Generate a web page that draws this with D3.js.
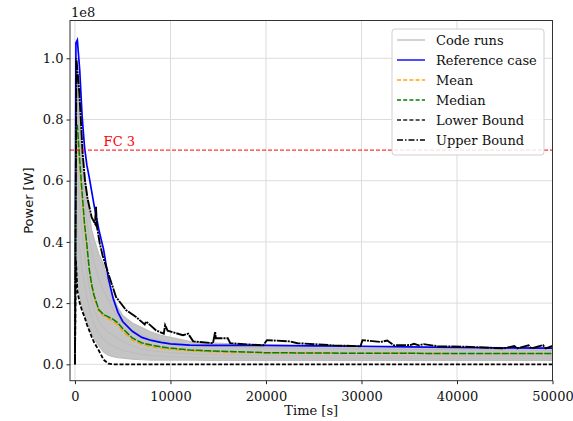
<!DOCTYPE html>
<html>
<head>
<meta charset="utf-8">
<script src="https://cdn.jsdelivr.net/npm/d3@7"></script>
<style>
  body { margin: 0; background: #fff; }
  text { font-family: "DejaVu Serif", serif; }
</style>
</head>
<body>
<svg id="chart" width="573" height="421"></svg>
<script>
"use strict";

// time grid [s] shared by the runs and statistics
var times = [0, 100, 250, 500, 750, 1000, 1250, 1500, 1750, 2000, 2500, 3000, 3500, 4000, 4500, 5000,
  6000, 7000, 8000, 9000, 10000, 12000, 14000, 16000, 18000, 20000, 25000, 30000, 35000, 40000, 45000, 50000];

// power in units of 1e8 W
var codeRuns = [
  [0, 0.98, 0.96, 0.85, 0.72, 0.62, 0.55, 0.49, 0.44, 0.41, 0.36, 0.325, 0.27, 0.22, 0.185, 0.16, 0.135, 0.12, 0.105, 0.095, 0.088, 0.075, 0.07, 0.068, 0.064, 0.062, 0.06, 0.058, 0.058, 0.055, 0.052, 0.052],
  [0, 0.90, 0.88, 0.76, 0.64, 0.54, 0.47, 0.41, 0.37, 0.33, 0.28, 0.24, 0.21, 0.18, 0.155, 0.135, 0.112, 0.095, 0.085, 0.078, 0.072, 0.064, 0.06, 0.057, 0.055, 0.054, 0.052, 0.05, 0.049, 0.048, 0.047, 0.046],
  [0, 0.80, 0.78, 0.66, 0.55, 0.46, 0.39, 0.32, 0.27, 0.23, 0.18, 0.165, 0.155, 0.145, 0.13, 0.11, 0.085, 0.07, 0.062, 0.057, 0.052, 0.047, 0.044, 0.042, 0.04, 0.038, 0.037, 0.036, 0.036, 0.035, 0.035, 0.035],
  [0, 0.66, 0.62, 0.52, 0.43, 0.36, 0.30, 0.25, 0.21, 0.18, 0.14, 0.12, 0.105, 0.095, 0.085, 0.075, 0.06, 0.05, 0.045, 0.041, 0.038, 0.034, 0.032, 0.031, 0.03, 0.029, 0.028, 0.028, 0.027, 0.027, 0.027, 0.026],
  [0, 0.50, 0.45, 0.38, 0.31, 0.26, 0.22, 0.18, 0.155, 0.13, 0.10, 0.08, 0.068, 0.06, 0.052, 0.046, 0.038, 0.032, 0.029, 0.027, 0.025, 0.023, 0.022, 0.021, 0.021, 0.02, 0.02, 0.02, 0.019, 0.019, 0.019, 0.019],
  [0, 0.36, 0.26, 0.22, 0.19, 0.165, 0.14, 0.12, 0.10, 0.085, 0.06, 0.04, 0.03, 0.025, 0.022, 0.02, 0.017, 0.015, 0.014, 0.014, 0.014, 0.014, 0.013, 0.013, 0.013, 0.013, 0.013, 0.013, 0.013, 0.013, 0.013, 0.013]
];
var referenceCase = [0, 1.05, 1.06, 0.96, 0.81, 0.71, 0.65, 0.61, 0.565, 0.52, 0.44, 0.375, 0.28, 0.215, 0.17, 0.14, 0.108, 0.088, 0.078, 0.072, 0.067, 0.063, 0.062, 0.062, 0.062, 0.062, 0.06, 0.059, 0.057, 0.055, 0.054, 0.053];
var meanCase = [0, 0.74, 0.75, 0.64, 0.545, 0.45, 0.38, 0.305, 0.255, 0.22, 0.172, 0.158, 0.149, 0.14, 0.128, 0.108, 0.079, 0.065, 0.057, 0.052, 0.049, 0.044, 0.041, 0.039, 0.038, 0.037, 0.036, 0.036, 0.036, 0.035, 0.035, 0.035];
var medianCase = [0, 0.78, 0.78, 0.667, 0.56, 0.46, 0.39, 0.31, 0.26, 0.225, 0.178, 0.163, 0.155, 0.147, 0.135, 0.117, 0.086, 0.07, 0.063, 0.057, 0.053, 0.047, 0.044, 0.042, 0.04, 0.038, 0.037, 0.036, 0.036, 0.035, 0.035, 0.035];
var lowerBound = [0, 0.34, 0.24, 0.20, 0.175, 0.155, 0.13, 0.11, 0.09, 0.072, 0.045, 0.015, 0.002, 0, 0, 0, 0, 0, 0, 0, 0, 0, 0, 0, 0, 0, 0, 0, 0, 0, 0, 0];

// upper bound is noisy, so it keeps its own time samples
var upperTimes = [0, 150, 450, 630, 800, 1050, 1330, 1750, 2100, 2200, 2300, 2600, 2900, 3600, 4300, 5350, 6400, 7300, 7450, 8500,
  9300, 9440, 9700, 11300, 11850, 12380, 14450, 14680, 14750, 16000, 16260, 19700, 20100, 22500, 23300, 27100, 29900, 30100,
  32000, 32700, 33400, 35100, 35500, 36000, 36500, 38000, 41400, 44900, 46000, 46300, 47500, 47800, 49000, 49300, 50000];
var upperBound = [0, 1.0, 0.89, 0.79, 0.69, 0.6, 0.54, 0.48, 0.46, 0.515, 0.45, 0.395, 0.355, 0.286, 0.22, 0.177, 0.155, 0.13, 0.14, 0.111,
  0.1, 0.128, 0.11, 0.095, 0.1, 0.075, 0.069, 0.106, 0.085, 0.085, 0.069, 0.062, 0.079, 0.075, 0.069, 0.062, 0.059, 0.079,
  0.073, 0.078, 0.062, 0.063, 0.067, 0.062, 0.066, 0.059, 0.057, 0.052, 0.06, 0.052, 0.062, 0.052, 0.063, 0.052, 0.06];

var fcLevel = 0.70;
var xTicks = [0, 10000, 20000, 30000, 40000, 50000];
var yTicks = [0, 0.2, 0.4, 0.6, 0.8, 1.0];
var legendItems = [
  { label: "Code runs", color: "#bfbfbf", dash: null },
  { label: "Reference case", color: "blue", dash: null },
  { label: "Mean", color: "orange", dash: "4,2.2" },
  { label: "Median", color: "green", dash: "4,2.2" },
  { label: "Lower Bound", color: "#222", dash: "4,2.2" },
  { label: "Upper Bound", color: "#000", dash: "6,2,1.5,2" }
];

var svg = d3.select("#chart");
var config = { margin: { l: 70, r: 20.5, t: 20.5, b: 40.3 } };
var width = 573, height = 421;

var x = d3.scaleLinear().domain([-520, 50000]).range([config.margin.l, width - config.margin.r]);
var y = d3.scaleLinear().domain([-0.0535, 1.1235]).range([height - config.margin.b, config.margin.t]);

// grid
var grid = svg.append("g").attr("class", "grid");
grid.selectAll("line.gx").data(xTicks).enter().append("line")
  .attr("x1", function(d) { return x(d); }).attr("x2", function(d) { return x(d); })
  .attr("y1", y.range()[0]).attr("y2", y.range()[1])
  .attr("stroke", "#dcdcdc").attr("stroke-width", 1);
grid.selectAll("line.gy").data(yTicks).enter().append("line")
  .attr("y1", function(d) { return y(d); }).attr("y2", function(d) { return y(d); })
  .attr("x1", x.range()[0]).attr("x2", x.range()[1])
  .attr("stroke", "#dcdcdc").attr("stroke-width", 1);

svg.append("clipPath").attr("id", "plotClip").append("rect")
  .attr("x", x.range()[0]).attr("y", y.range()[1])
  .attr("width", x.range()[1] - x.range()[0]).attr("height", y.range()[0] - y.range()[1]);
var plot = svg.append("g").attr("clip-path", "url(#plotClip)");

var line = d3.line()
  .x(function(d) { return x(d[0]); })
  .y(function(d) { return y(d[1]); });
function pairs(ts, vs) { return ts.map(function(t, i) { return [t, vs[i]]; }); }

// code runs: band between lowest and highest run, then every run on top
var band = d3.area()
  .x(function(d, i) { return x(times[i]); })
  .y0(function(d, i) { return y(d3.min(codeRuns, function(r) { return r[i]; })); })
  .y1(function(d, i) { return y(d3.max(codeRuns, function(r) { return r[i]; })); });
plot.append("path").datum(times).attr("d", band).attr("fill", "#c4c4c4");
plot.selectAll("path.run").data(codeRuns).enter().append("path")
  .attr("class", "run")
  .attr("d", function(r) { return line(pairs(times, r)); })
  .attr("fill", "none").attr("stroke", "#bdbdbd").attr("stroke-width", 1.2);

plot.append("path").attr("d", line(pairs(times, referenceCase)))
  .attr("fill", "none").attr("stroke", "blue").attr("stroke-width", 1.7);
plot.append("path").attr("d", line(pairs(times, meanCase)))
  .attr("fill", "none").attr("stroke", "orange").attr("stroke-width", 1.4).attr("stroke-dasharray", "5.5,2.4");
plot.append("path").attr("d", line(pairs(times, medianCase)))
  .attr("fill", "none").attr("stroke", "green").attr("stroke-width", 1.5).attr("stroke-dasharray", "7,1.5");
plot.append("path").attr("d", line(pairs(times, lowerBound)))
  .attr("fill", "none").attr("stroke", "#000").attr("stroke-width", 1.8).attr("stroke-dasharray", "4,1.8");
plot.append("path").attr("d", line(pairs(upperTimes, upperBound)))
  .attr("fill", "none").attr("stroke", "#000").attr("stroke-width", 1.9).attr("stroke-dasharray", "10,1,2,1");

// FC 3 threshold
plot.append("line")
  .attr("x1", x.range()[0]).attr("x2", x.range()[1])
  .attr("y1", y(fcLevel)).attr("y2", y(fcLevel))
  .attr("stroke", "red").attr("stroke-width", 1).attr("stroke-dasharray", "4,2");
svg.append("text")
  .attr("x", x(3000)).attr("y", y(fcLevel) - 4)
  .attr("fill", "red").style("font-size", "13px")
  .text("FC 3");

// axes
var xAxis = svg.append("g")
  .attr("transform", "translate(0," + y.range()[0] + ")")
  .call(d3.axisBottom(x).tickValues(xTicks).tickFormat(d3.format("d")).tickSizeInner(3.5).tickSizeOuter(0));
var yAxis = svg.append("g")
  .attr("transform", "translate(" + x.range()[0] + ",0)")
  .call(d3.axisLeft(y).tickValues(yTicks).tickFormat(d3.format(".1f")).tickSizeInner(3.5).tickSizeOuter(0));
[xAxis, yAxis].forEach(function(a) {
  a.select(".domain").remove();
  a.selectAll("text").style("font-family", "DejaVu Serif").style("font-size", "13px").attr("fill", "#111");
  a.selectAll("line").attr("stroke", "#222");
});
xAxis.selectAll("text").attr("dy", "1.05em");

svg.append("rect")
  .attr("x", x.range()[0]).attr("y", y.range()[1])
  .attr("width", x.range()[1] - x.range()[0]).attr("height", y.range()[0] - y.range()[1])
  .attr("fill", "none").attr("stroke", "#333").attr("stroke-width", 1);

svg.append("text")
  .attr("x", x.range()[0] + 1).attr("y", y.range()[1] - 4)
  .style("font-size", "13px").attr("fill", "#111")
  .text("1e8");

svg.append("text")
  .attr("x", (x.range()[0] + x.range()[1]) / 2).attr("y", 415)
  .attr("text-anchor", "middle")
  .style("font-size", "13px").attr("fill", "#111")
  .text("Time [s]");

svg.append("text")
  .attr("transform", "translate(33," + ((y.range()[0] + y.range()[1]) / 2) + ") rotate(-90)")
  .attr("text-anchor", "middle")
  .style("font-family", "DejaVu Sans").style("font-size", "13px").attr("fill", "#111")
  .text("Power [W]");

// legend
var legend = svg.append("g").attr("transform", "translate(392,29)");
legend.append("rect")
  .attr("width", 152).attr("height", 126).attr("rx", 3)
  .attr("fill", "#fff").attr("fill-opacity", 0.85)
  .attr("stroke", "#d0d0d0").attr("stroke-width", 1);
var rows = legend.selectAll("g.row").data(legendItems).enter().append("g")
  .attr("class", "row")
  .attr("transform", function(d, i) { return "translate(0," + (11 + i * 20) + ")"; });
rows.append("line")
  .attr("x1", 5).attr("x2", 33)
  .attr("stroke", function(d) { return d.color; })
  .attr("stroke-width", 1.4)
  .attr("stroke-dasharray", function(d) { return d.dash; });
rows.append("text")
  .attr("x", 44).attr("dy", "0.35em")
  .style("font-size", "13px").attr("fill", "#111")
  .text(function(d) { return d.label; });
</script>
</body>
</html>
